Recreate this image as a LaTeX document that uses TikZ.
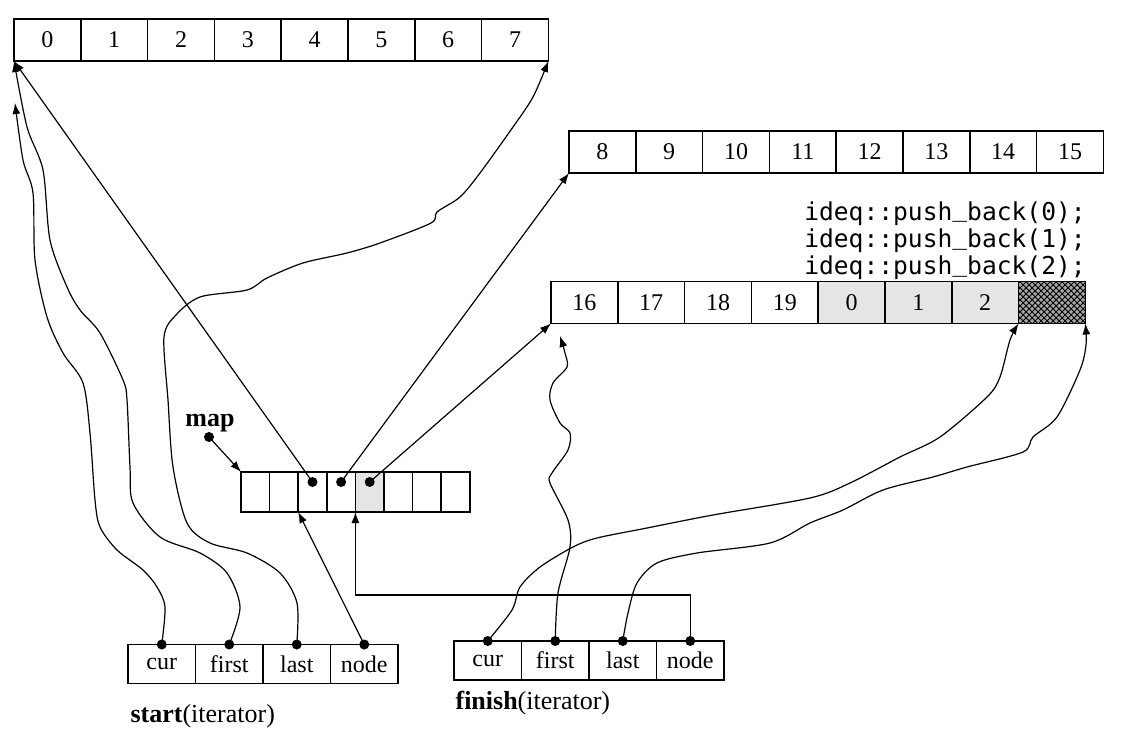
\documentclass[tikz,border=0pt]{standalone}
\usepackage{fontspec}
\setmainfont{Liberation Serif}
\newfontfamily\codefont{DejaVu Sans Mono}
\usetikzlibrary{arrows.meta,positioning,patterns}
\newcommand\usc{\raisebox{1.8pt}{\_}}

\begin{document}
\begin{tikzpicture}[x=0.5pt,y=-0.5pt,
  >={Latex[length=5.5pt,width=4pt]}, line width=0.6pt, font=\fontsize{12}{14}\selectfont,
  c/.style={draw, line width=0.8pt, outer sep=0pt, inner sep=0pt,
            minimum width=33.4pt, minimum height=21pt},
  m/.style={c, minimum width=14.3pt, minimum height=20pt},
  it/.style={c, minimum width=33.75pt, minimum height=19.5pt},
  dot/.style={circle, fill, inner sep=0pt, minimum size=5pt},
  dim/.style={fill=black!10},
  hatch/.style={fill=black!35, postaction={pattern=crosshatch}},
  lbl/.style={inner sep=0pt, font=\fontsize{13}{15}\selectfont}]
\useasboundingbox (0,0) rectangle (1137,738);
% buffers
\node[c](p0) at (47.4,40){0}; \node[c,right=0pt of p0](p1){1};
\node[c,right=0pt of p1](p2){2}; \node[c,right=0pt of p2](p3){3};
\node[c,right=0pt of p3](p4){4}; \node[c,right=0pt of p4](p5){5};
\node[c,right=0pt of p5](p6){6}; \node[c,right=0pt of p6](p7){7};
\node[c](q0) at (602.4,152){8}; \node[c,right=0pt of q0](q1){9};
\node[c,right=0pt of q1](q2){10}; \node[c,right=0pt of q2](q3){11};
\node[c,right=0pt of q3](q4){12}; \node[c,right=0pt of q4](q5){13};
\node[c,right=0pt of q5](q6){14}; \node[c,right=0pt of q6](q7){15};
\node[c](r0) at (584.4,302.5){16}; \node[c,right=0pt of r0](r1){17};
\node[c,right=0pt of r1](r2){18}; \node[c,right=0pt of r2](r3){19};
\node[c,dim,right=0pt of r3](r4){0}; \node[c,dim,right=0pt of r4](r5){1};
\node[c,dim,right=0pt of r5](r6){2}; \node[c,hatch,right=0pt of r6](r7){};
\node[inner sep=0pt, align=left, font=\codefont\fontsize{12.3}{13.6}\selectfont](code) at (945,241)
  {ideq::push\usc back(0);\\ideq::push\usc back(1);\\ideq::push\usc back(2);};
% map
\node[m](m0) at (255.3,492){}; \node[m,right=0pt of m0](m1){};
\node[m,right=0pt of m1](m2){}; \node[m,right=0pt of m2](m3){};
\node[m,dim,right=0pt of m3](m4){}; \node[m,right=0pt of m4](m5){};
\node[m,right=0pt of m5](m6){}; \node[m,right=0pt of m6](m7){};
\node[dot](k2) at ([yshift=5pt]m2.center){};
\node[dot](k3) at ([yshift=5pt]m3.center){};
\node[dot](k4) at ([yshift=5pt]m4.center){};
\node[dot](mapdot) at (209,437){};
\node[lbl,font=\bfseries\fontsize{13}{15}\selectfont](maplbl) at (210,423){map};
% iterators
\node[it](scur) at (161.75,664){cur}; \node[it,right=0pt of scur](sfirst){first};
\node[it,right=0pt of sfirst](slast){last}; \node[it,right=0pt of slast](snode){node};
\node[it](fcur) at (487.75,660.5){cur}; \node[it,right=0pt of fcur](ffirst){first};
\node[it,right=0pt of ffirst](flast){last}; \node[it,right=0pt of flast](fnode){node};
\node[dot](d1) at (scur.north){}; \node[dot](d2) at (sfirst.north){};
\node[dot](d3) at (slast.north){}; \node[dot](d4) at (snode.north){};
\node[dot](e1) at (fcur.north){}; \node[dot](e2) at (ffirst.north){};
\node[dot](e3) at (flast.north){}; \node[dot](e4) at (fnode.north){};
\node[lbl,anchor=west](slbl) at (130,716){\textbf{start}(iterator)};
\node[lbl,anchor=west](flbl) at (455,703){\textbf{finish}(iterator)};
\coordinate (ctip) at (15,103);
\coordinate (ftip) at (560,336);
% map pointers
\draw[->](k2.center)--(p0.south west);
\draw[->](k3.center)--(q0.south west);
\draw[->](k4.center)--(r0.south west);
\draw[->](mapdot.center)--(m0.north west);
\draw[->](d4.center)--(m2.south west);
\draw[->](e4.center)--++(0,-46)-|(m4.south west);
% start
\draw[->] plot[smooth] coordinates {(d1.center) (165,607) (157,587) (143,570) (117,550) (100,527)
  (95,500) (90,433) (83,383) (63,353) (47,317) (35,260) (33,193) (23,160) (ctip)};
\draw[->] plot[smooth] coordinates {(d2.center) (240,607) (227,573) (200,553) (160,537) (133,503)
  (130,467) (127,400) (123,380) (100,333) (80,310) (67,287) (50,240) (43,170) (27,127) (p0.south west)};
\draw[->] plot[smooth] coordinates {(d3.center) (297,603) (280,573) (247,553) (210,543) (187,523)
  (173,467) (168,400) (164,337) (176,315) (200,297) (247,290) (267,278) (303,263) (347,253)
  (380,243) (431,223) (437,212) (460,197) (480,173) (513,127) (533,97) (p7.south east)};
% finish
\draw[->] plot[smooth] coordinates {(e1.center) (512,610) (520,587) (540,567) (573,547) (597,538)
  (647,528) (713,515) (810,498) (850,483) (900,457) (940,437) (987,397) (1000,377) (1010,340) (r7.south west)};
\draw[->] plot[smooth] coordinates {(e2.center) (558,593) (570,547) (568,520) (550,483) (552,473)
  (568,450) (570,433) (560,423) (550,400) (553,383) (567,367) (565,353) (ftip)};
\draw[->] plot[smooth] coordinates {(e3.center) (628,613) (637,583) (657,563) (697,553) (770,543)
  (810,523) (843,510) (883,490) (933,477) (967,467) (1023,452) (1033,437) (1057,417) (1080,370)
  (1086,345) (r7.south east)};
\end{tikzpicture}
\end{document}
